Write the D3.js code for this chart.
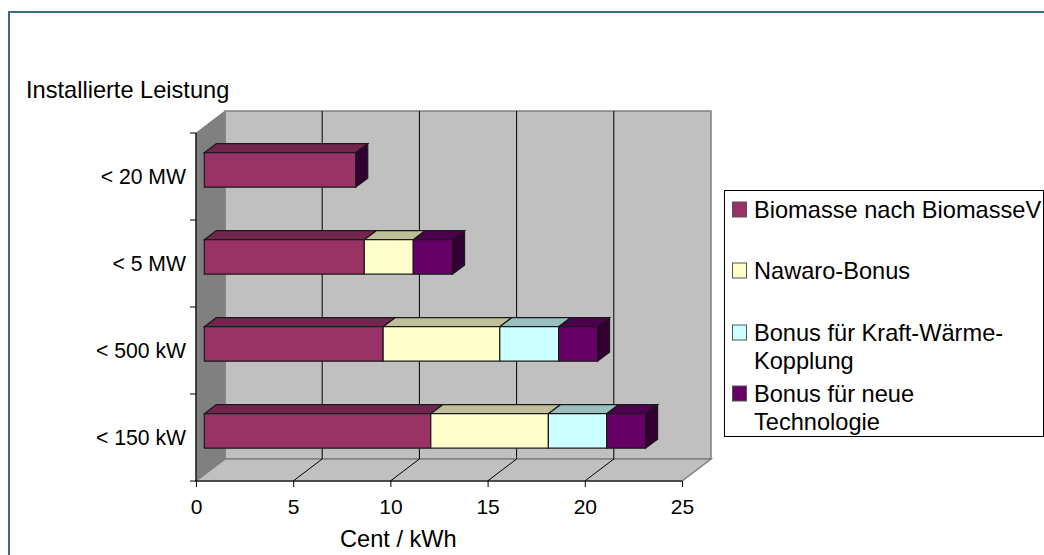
<!DOCTYPE html>
<html><head><meta charset="utf-8">
<script src="https://cdnjs.cloudflare.com/ajax/libs/d3/7.8.5/d3.min.js"></script>
<style>html,body{margin:0;padding:0;background:#fff;overflow:hidden}svg{display:block}text{font-family:"Liberation Sans",Arial,sans-serif;fill:#000}</style>
</head><body><div id="c"></div>
<script>
const categories=["< 150 kW","< 500 kW","< 5 MW","< 20 MW"];
const seriesNames=["Biomasse nach BiomasseV","Nawaro-Bonus","Bonus für Kraft-Wärme-Kopplung","Bonus für neue Technologie"];
const biomasse=[11.65,9.2,8.23,7.79];
const nawaro=[6.05,6.0,2.52,0];
const kwk=[3.0,3.03,0,0];
const technologie=[2.0,2.0,2.02,0];
const xTicks=[0,5,10,15,20,25];
const frontColors=["#993366","#FFFFCC","#CCFFFF","#660066"];
const topColors=["#73264D","#BFBF99","#99BFBF","#4D004D"];
const sideColors=["#4D1933","#808066","#668080","#330033"];
const legendLines=[["Biomasse nach BiomasseV"],["Nawaro-Bonus"],["Bonus für Kraft-Wärme-","Kopplung"],["Bonus für neue","Technologie"]];
const legendBase=[218,279,341,402];

const W=1044,H=555;
const svg=d3.select("#c").append("svg").attr("width",W).attr("height",H);
svg.append("path").attr("d","M9,555V12H1044").attr("fill","none").attr("stroke","#3D6B85").attr("stroke-width",2);

const x=d3.scaleLinear().domain([0,25]).range([196,682]);
const y=d3.scaleBand().domain(categories).range([481,133]);
const wallD=[29,-22], barOff=[8.3,-6.6], barD=[12,-9];
const poly=(pts,fill,stroke,sw)=>svg.append("polygon").attr("points",pts.map(p=>p.join(",")).join(" ")).attr("fill",fill).attr("stroke",stroke).attr("stroke-width",sw).attr("stroke-linejoin","miter");
const x0=x(0),x1=x(25),yT=y.range()[1],yB=y.range()[0];
poly([[x0+wallD[0],yT+wallD[1]],[x1+wallD[0],yT+wallD[1]],[x1+wallD[0],yB+wallD[1]],[x0+wallD[0],yB+wallD[1]]],"#C0C0C0","#808080",1.5);
poly([[x0,yB],[x1,yB],[x1+wallD[0],yB+wallD[1]],[x0+wallD[0],yB+wallD[1]]],"#C0C0C0","#808080",1.5);
poly([[x0,yT],[x0+wallD[0],yT+wallD[1]],[x0+wallD[0],yB+wallD[1]],[x0,yB]],"#808080","#808080",1);
xTicks.slice(1,-1).forEach(t=>{
  svg.append("path").attr("fill","none").attr("stroke","#000").attr("stroke-width",1)
   .attr("d",d3.line()([[x(t),yB],[x(t)+wallD[0],yB+wallD[1]],[x(t)+wallD[0],yT+wallD[1]]]));
});
const font='"Liberation Sans",Arial,sans-serif';
const axB=svg.append("g").attr("transform",`translate(0,${yB})`).call(d3.axisBottom(x).tickValues(xTicks).tickSize(6));
axB.selectAll("line").attr("stroke","#000").attr("stroke-width",1);
axB.select(".domain").attr("stroke","#000").attr("stroke-width",1.2).attr("d",`M${x0},0H${x1}`);
axB.selectAll("text").style("font-size","21px").style("font-family",font).attr("y",33).attr("dy",0);
const axL=svg.append("g").attr("transform",`translate(${x0},0)`).call(d3.axisLeft(y).tickSize(0));
axL.select(".domain").attr("stroke","#000").attr("stroke-width",1.2).attr("d",`M0,${yT}V${yB}`);
axL.selectAll("text").style("font-size","21.2px").style("font-family",font).attr("x",-10).attr("dy",0).attr("y",7.5);
[0,1,2,3,4].forEach(i=>svg.append("line").attr("x1",x0-6).attr("x2",x0).attr("y1",yB-i*y.step()).attr("y2",yB-i*y.step()).attr("stroke","#000"));
const barH=34.5;
const stacks=d3.stack().keys([0,1,2,3]).value((d,k)=>d[k])(categories.map((c,i)=>[biomasse[i],nawaro[i],kwk[i],technologie[i]]));
const px=v=>x(v)+barOff[0];
categories.slice().reverse().forEach(c=>{
  const i=categories.indexOf(c);
  const fy=y(c)+y.bandwidth()/2+barOff[1]-barH/2;
  stacks.forEach((s,k)=>{
    const a=px(s[i][0]),b=px(s[i][1]);
    const st="#1a1a1a";
    if(k===3) poly([[b,fy],[b+barD[0],fy+barD[1]],[b+barD[0],fy+barH+barD[1]],[b,fy+barH]],sideColors[k],st,1.2);
    if(b>a) poly([[a,fy],[a+barD[0],fy+barD[1]],[b+barD[0],fy+barD[1]],[b,fy]],topColors[k],st,1.2);
  });
  stacks.forEach((s,k)=>{
    const a=px(s[i][0]),b=px(s[i][1]);
    if(b>a) poly([[a,fy],[b,fy],[b,fy+barH],[a,fy+barH]],frontColors[k],"#1a1a1a",1.2);
  });
});
svg.append("text").attr("x",26).attr("y",98).style("font-size","23.6px").text("Installierte Leistung");
svg.append("text").attr("x",340).attr("y",547).style("font-size","23.6px").text("Cent / kWh");
svg.append("rect").attr("x",724.5).attr("y",190.5).attr("width",319).attr("height",246).attr("fill","#fff").attr("stroke","#000").attr("stroke-width",1);
seriesNames.forEach((n,k)=>{
  const base=legendBase[k];
  svg.append("rect").attr("x",732.5).attr("y",base-16).attr("width",14).attr("height",15).attr("fill",frontColors[k]).attr("stroke","#555").attr("stroke-width",1);
  legendLines[k].forEach((l,j)=>svg.append("text").attr("x",754).attr("y",base+j*28).style("font-size","23.6px").text(l));
});
</script></body></html>
